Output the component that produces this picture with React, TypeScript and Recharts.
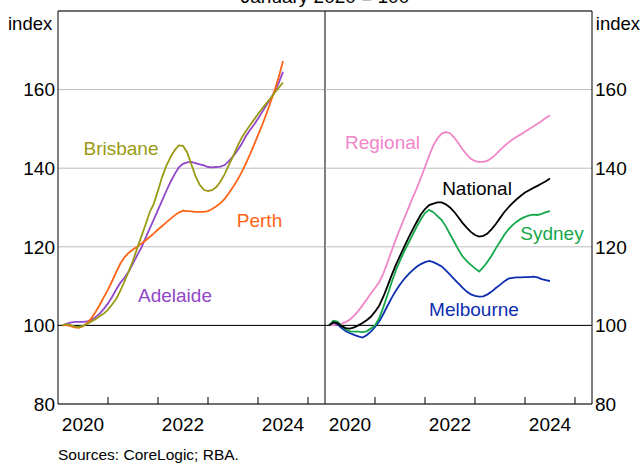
import { LineChart, Line, XAxis, YAxis, CartesianGrid, ReferenceLine, ReferenceDot } from 'recharts';

// Monthly index, January 2020 = 100 (Jan 2020 to Jun 2024)
const brisbane = [
  100.0, 100.3, 100.1, 99.7, 99.6, 99.9, 100.4, 101.0, 101.6, 102.3, 103.0, 104.0,
  105.3, 106.8, 108.9, 111.3, 113.8, 116.5, 119.6, 122.6, 125.6, 128.8, 131.0, 134.3,
  137.8, 140.6, 142.8, 144.6, 145.8, 145.7, 144.0, 141.0, 138.0, 135.8, 134.5, 134.2,
  134.4, 135.2, 136.6, 138.5, 140.8, 143.0, 145.4, 147.6, 149.3, 150.8, 152.3, 153.8,
  155.2, 156.5, 157.8, 159.2, 160.5, 161.8,
];
const perth = [
  100.0, 100.1, 99.8, 99.5, 99.4, 99.8, 100.6, 101.8, 103.4, 105.2, 107.2, 109.1,
  111.3, 113.6, 115.8, 117.4, 118.5, 119.3, 120.0, 120.8, 121.6, 122.5, 123.4, 124.4,
  125.3, 126.2, 127.1, 128.0, 128.7, 129.2, 129.1, 129.0, 128.9, 128.9, 128.9, 129.1,
  129.6, 130.3, 131.1, 132.2, 133.6, 135.2, 136.9, 138.8, 141.0, 143.3, 145.8, 148.4,
  151.0, 153.8, 156.8, 159.8, 163.3, 167.3,
];
const adelaide = [
  100.0, 100.4, 100.7, 100.9, 100.9, 100.9, 101.0, 101.4, 102.1, 103.0, 104.2, 105.6,
  107.3, 109.2, 110.9, 112.2, 113.8, 115.8, 117.8, 119.8, 122.2, 124.6, 127.0, 129.4,
  131.8, 134.2, 136.5, 138.5, 140.2, 141.1, 141.5, 141.6, 141.3, 141.0, 140.7, 140.3,
  140.2, 140.3, 140.4, 140.8, 141.8, 143.0, 144.4, 146.0, 148.0, 149.6, 151.0, 152.6,
  154.3, 156.0, 157.6, 159.5, 161.8, 164.5,
];
const regional = [
  100.0, 100.1, 100.2, 100.4, 100.9, 101.5, 102.5, 103.7, 105.1, 106.6, 108.1, 109.5,
  111.0, 113.2, 116.0, 119.0, 121.9, 124.6, 127.2, 129.8, 132.4, 134.8, 137.5, 140.3,
  143.2, 145.8, 147.6, 148.8, 149.2, 148.9, 147.8, 146.4, 144.8, 143.5, 142.4, 141.8,
  141.6, 141.6, 141.9, 142.6, 143.5, 144.6, 145.6, 146.5, 147.3, 148.0, 148.6, 149.3,
  150.0, 150.6, 151.3, 152.0, 152.8, 153.5,
];
const national = [
  100.0, 100.8, 100.6, 99.8, 99.3, 99.2, 99.5, 100.0, 100.6, 101.3, 102.2, 103.5,
  105.0, 107.3, 110.0, 112.8, 115.4, 117.7, 120.0, 122.2, 124.3, 126.3, 128.2, 129.6,
  130.6, 131.0, 131.3, 131.3, 130.8, 130.0, 128.9, 127.5, 126.1, 124.9, 123.8, 123.0,
  122.6, 122.8, 123.4, 124.5, 125.8, 127.3, 128.8, 130.0, 131.1, 132.1, 133.0, 133.8,
  134.4, 135.0, 135.5, 136.1, 136.7, 137.4,
];
const sydney = [
  100.0, 101.2, 101.0, 99.8, 99.0, 98.5, 98.4, 98.4, 98.3, 98.5, 99.2, 100.0,
  101.8, 104.6, 107.8, 111.0, 114.0, 116.5, 118.8, 120.9, 123.0, 125.1, 127.0, 128.6,
  129.4, 128.8, 127.8, 126.8, 125.2, 123.2, 121.3, 119.3, 117.6, 116.4, 115.4, 114.5,
  113.7, 114.8, 116.2, 117.8, 119.6, 121.3, 123.0, 124.4, 125.5, 126.4, 127.1, 127.6,
  128.0, 128.2, 128.1, 128.4, 128.8, 129.1,
];
const melbourne = [
  100.0, 100.8, 100.3, 99.3, 98.5, 98.0, 97.6, 97.2, 96.9, 97.5, 98.4, 99.6,
  101.0, 102.9, 105.0, 107.0, 108.8, 110.4, 111.8, 113.0, 114.0, 114.9, 115.6, 116.1,
  116.4, 116.1, 115.6, 115.0, 114.0, 112.9, 111.8, 110.7, 109.6, 108.6, 107.9, 107.5,
  107.3, 107.4, 107.9, 108.6, 109.5, 110.3, 111.2, 111.9, 112.1, 112.2, 112.2, 112.3,
  112.3, 112.4, 112.2, 111.8, 111.5, 111.3,
];

// month-end positions as fractional years
const months = brisbane.map((_, i) => 2020 + (i + 1) / 12);

const yearTicks = [2021, 2022, 2023, 2024, 2025];
const yearLabels = [2020, 2022, 2024];
const yTicks = [80, 100, 120, 140, 160];

const X_DOMAIN = [2020, 2025.34];
const FONT = "Arial, 'Liberation Sans', sans-serif";

const cities = {
  brisbane: { name: 'Brisbane', color: '#9A9A14', data: brisbane, lx: 2021.26, ly: 145.0 },
  perth: { name: 'Perth', color: '#FF6414', data: perth, lx: 2024.03, ly: 126.7 },
  adelaide: { name: 'Adelaide', color: '#9147C8', data: adelaide, lx: 2022.34, ly: 107.6 },
  regional: { name: 'Regional', color: '#F085C8', data: regional, lx: 2021.15, ly: 146.6 },
  national: { name: 'National', color: '#000000', data: national, lx: 2023.04, ly: 134.8 },
  sydney: { name: 'Sydney', color: '#14A84A', data: sydney, lx: 2024.54, ly: 123.5 },
  melbourne: { name: 'Melbourne', color: '#0D2EB0', data: melbourne, lx: 2022.98, ly: 104.1 },
};

type Key = keyof typeof cities;

const leftKeys: Key[] = ['adelaide', 'perth', 'brisbane'];
const rightKeys: Key[] = ['regional', 'melbourne', 'sydney', 'national'];

const buildRows = (keys: Key[]) =>
  months.map((t, i) => {
    const row: { [k: string]: number } = { t };
    keys.forEach((k) => {
      row[k] = cities[k].data[i];
    });
    return row;
  });

const xTicks = [...yearTicks, ...yearLabels.map((y) => y + 0.5)].sort((a, b) => a - b);

// integer years get an inward tick mark, mid-years carry the label
const YearTick = (props: any) => {
  const { x, y, payload } = props;
  const v = payload.value;
  if (Number.isInteger(v)) {
    return <line x1={x} y1={y} x2={x} y2={y - 7} stroke="#000" strokeWidth={1} />;
  }
  return (
    <text x={x} y={y + 27} textAnchor="middle" fontSize={19} fill="#000" fontFamily={FONT}>
      {Math.floor(v)}
    </text>
  );
};

function Panel({ keys, side }: { keys: Key[]; side: 'left' | 'right' }) {
  const rows = buildRows(keys);
  const margin =
    side === 'left'
      ? { top: 11, right: 317, bottom: 0, left: 0 }
      : { top: 11, right: 0, bottom: 0, left: 325 };
  return (
    <div style={{ position: 'absolute', left: 0, top: 0 }}>
      <LineChart width={642} height={463} data={rows} margin={margin}>
        <CartesianGrid vertical={false} stroke="#BDBDBD" strokeWidth={1} />
        <XAxis
          dataKey="t"
          type="number"
          domain={X_DOMAIN}
          allowDataOverflow
          ticks={xTicks}
          interval={0}
          height={59}
          tickLine={false}
          tickSize={0}
          tickMargin={0}
          axisLine={{ stroke: '#000', strokeWidth: 1 }}
          tick={<YearTick />}
        />
        <YAxis
          orientation={side}
          domain={[80, 180]}
          ticks={yTicks}
          interval={0}
          width={side === 'left' ? 58 : 50}
          tickLine={false}
          tickSize={0}
          tickMargin={3}
          axisLine={{ stroke: '#000', strokeWidth: 1 }}
          tick={{ fontSize: 19, fill: '#000', fontFamily: FONT }}
        />
        <ReferenceLine y={180} stroke="#000" strokeWidth={1} />
        <ReferenceLine y={100} stroke="#000" strokeWidth={1} />
        {side === 'left' && <ReferenceLine x={X_DOMAIN[1]} stroke="#000" strokeWidth={1} />}
        {keys.map((k) => (
          <Line
            key={k}
            dataKey={k}
            type="linear"
            stroke={cities[k].color}
            strokeWidth={1.8}
            dot={false}
            isAnimationActive={false}
          />
        ))}
        {keys.map((k) => (
          <ReferenceDot
            key={`lbl-${k}`}
            x={cities[k].lx}
            y={cities[k].ly}
            r={0}
            fill="none"
            stroke="none"
            label={{
              value: cities[k].name,
              position: 'center',
              fill: cities[k].color,
              fontSize: 19,
              fontFamily: FONT,
            }}
          />
        ))}
      </LineChart>
    </div>
  );
}

export default function App() {
  return (
    <div
      style={{
        position: 'absolute',
        left: 0,
        top: 0,
        width: 642,
        height: 463,
        background: '#fff',
        overflow: 'hidden',
        fontFamily: FONT,
      }}
    >
      <Panel keys={leftKeys} side="left" />
      <Panel keys={rightKeys} side="right" />
      <svg
        width={642}
        height={463}
        style={{ position: 'absolute', left: 0, top: 0, pointerEvents: 'none' }}
        fontFamily={FONT}
      >
        <text x={325} y={3} textAnchor="middle" fontSize={19} fill="#000">
          January 2020 = 100
        </text>
        <text x={8} y={30} fontSize={18.5} fill="#000">
          index
        </text>
        <text x={640} y={30} textAnchor="end" fontSize={18.5} fill="#000">
          index
        </text>
        <text x={58} y={460} fontSize={15.5} fill="#000">
          Sources: CoreLogic; RBA.
        </text>
      </svg>
    </div>
  );
}
